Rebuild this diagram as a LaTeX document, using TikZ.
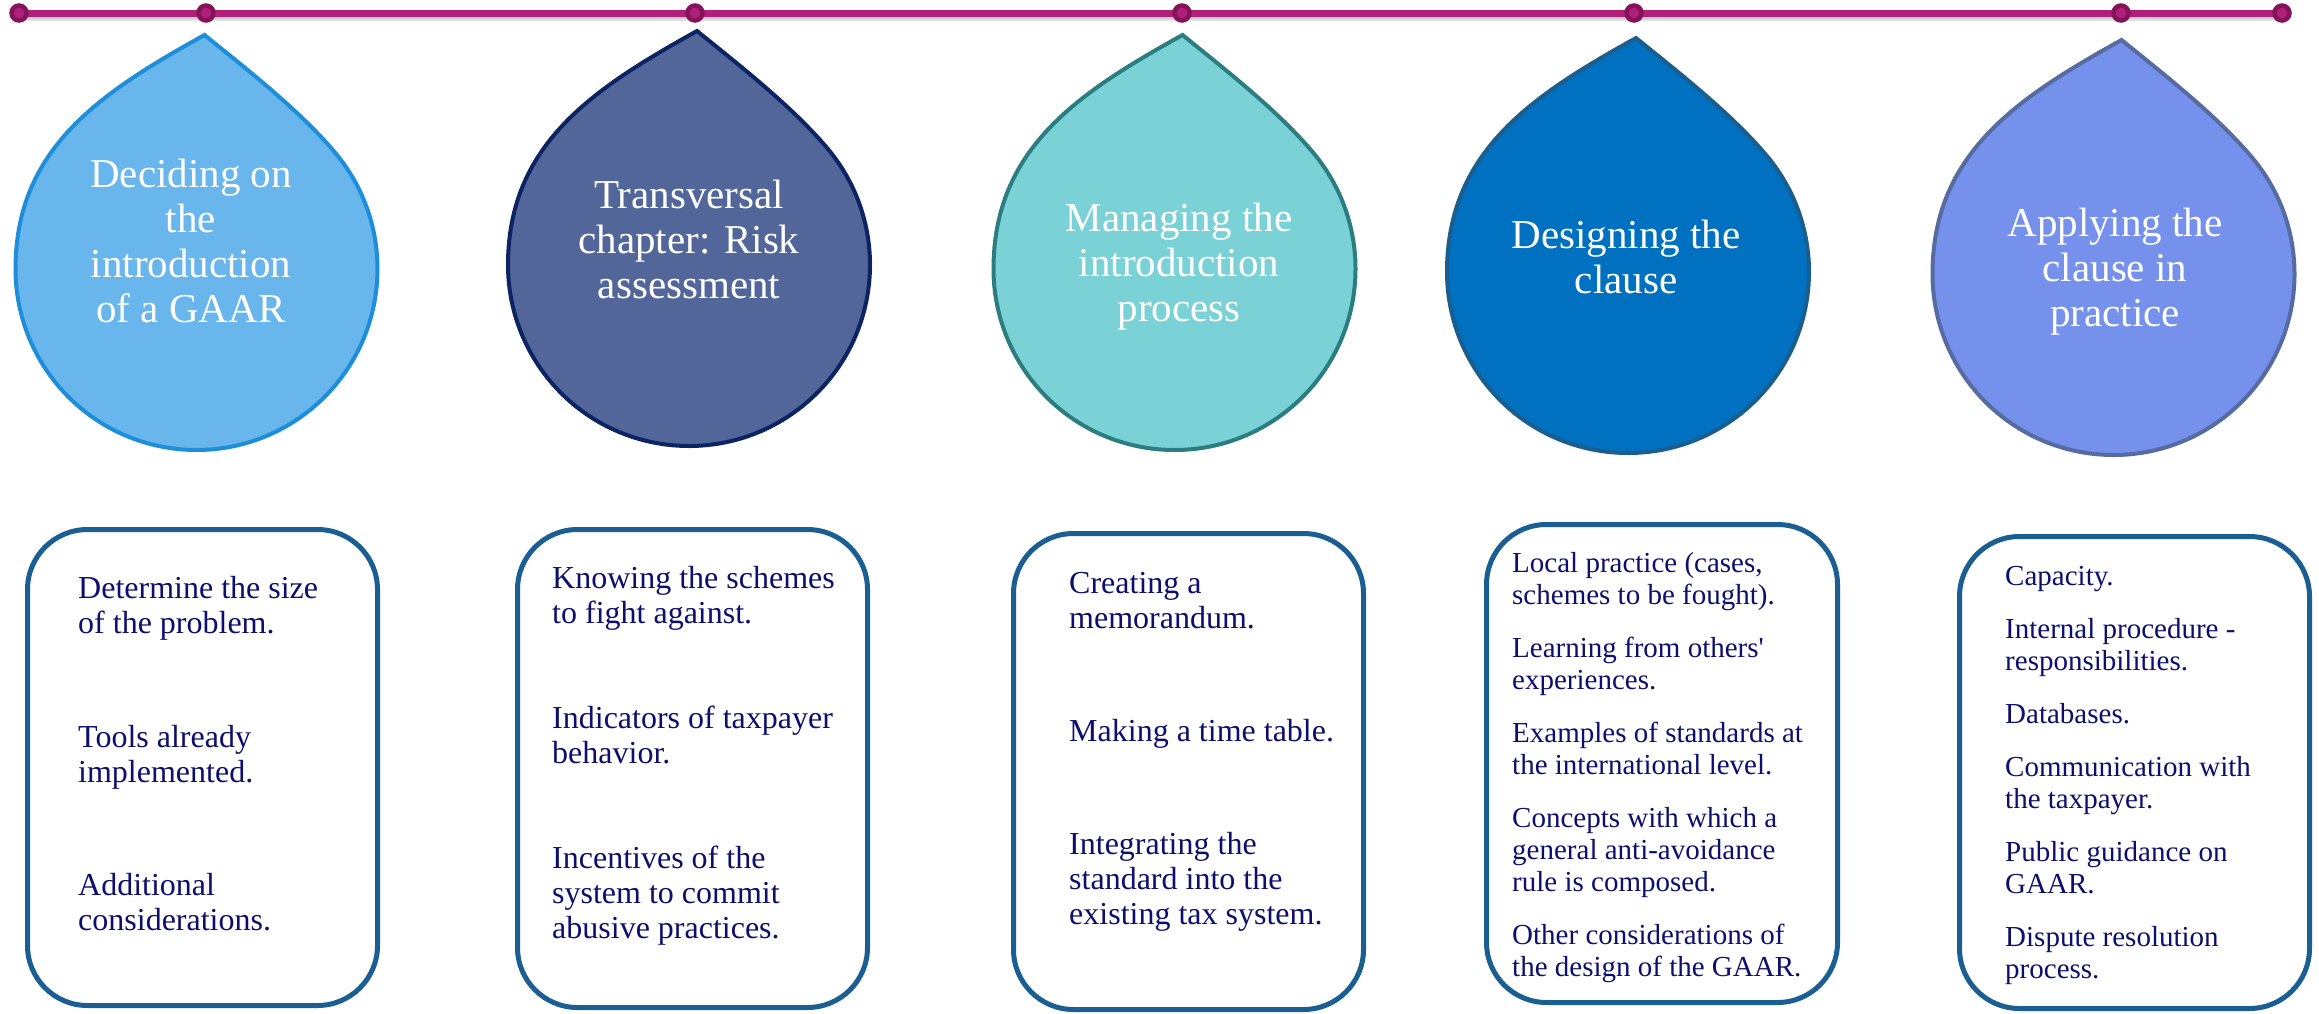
\documentclass[tikz,border=0pt]{standalone}
\usepackage{fontspec}
\setmainfont{Liberation Serif}
\definecolor{tl}{HTML}{B0207A}
\definecolor{dotring}{HTML}{85135A}
\definecolor{boxline}{HTML}{1A5E92}
\definecolor{navytxt}{RGB}{14,14,110}
\definecolor{dAfill}{HTML}{68B6EC}\definecolor{dAline}{HTML}{1F8EDA}
\definecolor{dBfill}{HTML}{53669A}\definecolor{dBline}{HTML}{0D2463}
\definecolor{dCfill}{HTML}{7BD2D6}\definecolor{dCline}{HTML}{2B7D80}
\definecolor{dDfill}{HTML}{0070C0}\definecolor{dDline}{HTML}{1A5D8F}
\definecolor{dEfill}{HTML}{7591EC}\definecolor{dEline}{HTML}{566BA2}
\newcommand\ctrlines[1]{\vtop{\halign{\hfil##\hfil\cr#1\crcr}}}
\newcommand\leftlines[1]{\vtop{\halign{##\hfil\cr#1\crcr}}}
\newcommand\gap[1]{\noalign{\vskip#1pt}}
\newcommand\droppath[4]{%
  \begin{scope}[shift={(#1,#2)}, yscale=-1]
    \draw[dropline, draw=#4, fill=#3] (8,234) .. controls (50.7,199.4) and (103.3,158.4) .. (40:181)
      arc[start angle=40, end angle=-180, radius=181]
      .. controls (-181,120) and (-97,175.8) .. cycle;
  \end{scope}}
\begin{document}
\begin{tikzpicture}[x=1pt, y=-1pt,
  dropline/.style={line width=4pt},
  tldot/.style={circle, inner sep=0pt, minimum size=15pt, line width=4.5pt, draw=dotring, fill=tl},
  dtxt/.style={anchor=base, inner sep=0pt, text=white, font=\fontsize{41}{45}\selectfont},
  bigtxt/.style={anchor=base west, inner sep=0pt, text=navytxt, font=\fontsize{32}{35}\selectfont},
  smalltxt/.style={anchor=base west, inner sep=0pt, text=navytxt, font=\fontsize{29}{32}\selectfont},
  infobox/.style={draw=boxline, line width=5pt, rounded corners=60pt, fill=white, inner sep=0pt}
]
\useasboundingbox (0,0) rectangle (2319,1013);
\fill[white] (0,0) rectangle (2319,1013);

% timeline
\coordinate (t1) at (19,13);
\coordinate (t7) at (2283,13);
\draw[line width=7pt, black!12] ([yshift=-4pt]t1) -- ([yshift=-4pt]t7);
\draw[line width=7pt, black!20] ([yshift=-2.5pt]t1) -- ([yshift=-2.5pt]t7);
\draw[line width=7pt, tl] (t1) -- (t7);
\node[tldot] (d1) at (19,13) {};
\node[tldot] (d2) at (206,13) {};
\node[tldot] (d3) at (695,13) {};
\node[tldot] (d4) at (1182,13) {};
\node[tldot] (d5) at (1634,13) {};
\node[tldot] (d6) at (2121,13) {};
\node[tldot] (d7) at (2282,13) {};

% drops
\droppath{196.5}{269}{dAfill}{dAline}
\droppath{689}{265}{dBfill}{dBline}
\droppath{1174.5}{269}{dCfill}{dCline}
\droppath{1628}{272}{dDfill}{dDline}
\droppath{2113.5}{274}{dEfill}{dEline}

\node[dtxt] (h1) at (191,187) {\ctrlines{Deciding on\cr the\cr introduction\cr of a GAAR}};
\node[dtxt] (h2) at (689,208) {\ctrlines{Transversal\cr chapter: Risk\cr assessment}};
\node[dtxt] (h3) at (1179,231) {\ctrlines{Managing the\cr introduction\cr process}};
\node[dtxt] (h4) at (1626,248) {\ctrlines{Designing the\cr clause}};
\node[dtxt] (h5) at (2115,236) {\ctrlines{Applying the\cr clause in\cr practice}};

% boxes
\node[infobox, minimum width=350pt, minimum height=476pt] (b1) at (202.5,767.5) {};
\node[infobox, minimum width=350pt, minimum height=478pt] (b2) at (692.5,768.5) {};
\node[infobox, minimum width=350pt, minimum height=476pt] (b3) at (1188.5,771.5) {};
\node[infobox, minimum width=351pt, minimum height=478pt] (b4) at (1662,763.5) {};
\node[infobox, minimum width=350pt, minimum height=472pt] (b5) at (2134.5,772.5) {};

\node[bigtxt] (x1) at (78,598) {\leftlines{Determine the size\cr of the problem.\cr\gap{79}
Tools already\cr implemented.\cr\gap{78}
Additional\cr considerations.}};
\node[bigtxt] (x2) at (552,588) {\leftlines{Knowing the schemes\cr to fight against.\cr\gap{70}
Indicators of taxpayer\cr behavior.\cr\gap{70}
Incentives of the\cr system to commit\cr abusive practices.}};
\node[bigtxt] (x3) at (1069,593) {\leftlines{Creating a\cr memorandum.\cr\gap{78}
Making a time table.\cr\gap{78}
Integrating the\cr standard into the\cr existing tax system.}};
\node[smalltxt] (x4) at (1512,572) {\leftlines{Local practice (cases,\cr schemes to be fought).\cr\gap{21}
Learning from others\textquotesingle\cr experiences.\cr\gap{21}
Examples of standards at\cr the international level.\cr\gap{21}
Concepts with which a\cr general anti-avoidance\cr rule is composed.\cr\gap{21}
Other considerations of\cr the design of the GAAR.}};
\node[smalltxt] (x5) at (2005,585) {\leftlines{Capacity.\cr\gap{21}
Internal procedure -\cr responsibilities.\cr\gap{21}
Databases.\cr\gap{21}
Communication with\cr the taxpayer.\cr\gap{21}
Public guidance on\cr GAAR.\cr\gap{21}
Dispute resolution\cr process.}};
\end{tikzpicture}
\end{document}
